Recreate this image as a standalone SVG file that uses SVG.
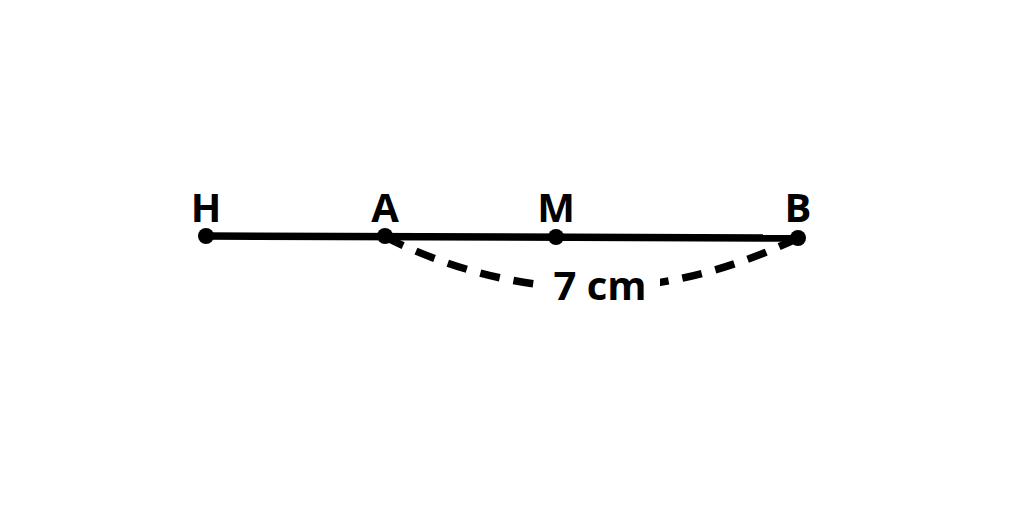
<svg xmlns="http://www.w3.org/2000/svg" width="1024" height="525" viewBox="0 0 1024 525">
<style>
.lbl{font-family:"Open Sans","Liberation Sans",sans-serif;font-weight:bold;font-size:40px;fill:#000;text-anchor:middle}
.pt{fill:#000}
</style>
<rect width="1024" height="525" fill="#fff"/>
<g id="connectors">
<line x1="206" y1="236" x2="798" y2="238" stroke="#000" stroke-width="7.5"/>
<path d="M385,237 Q590,338 798,238" fill="none" stroke="#000" stroke-width="7.5" stroke-dasharray="20,14"/>
<rect x="536" y="262" width="124" height="44" fill="#fff"/>
<text class="lbl" x="600" y="300">7 cm</text>
</g>
<g id="H"><circle class="pt" cx="206" cy="236" r="8"/><text class="lbl" x="206" y="222">H</text></g>
<g id="A"><circle class="pt" cx="385" cy="236" r="8"/><text class="lbl" x="385" y="222">A</text></g>
<g id="M"><circle class="pt" cx="556" cy="237" r="8"/><text class="lbl" x="556" y="222">M</text></g>
<g id="B"><circle class="pt" cx="798" cy="238" r="8"/><text class="lbl" x="798" y="222">B</text></g>
</svg>
